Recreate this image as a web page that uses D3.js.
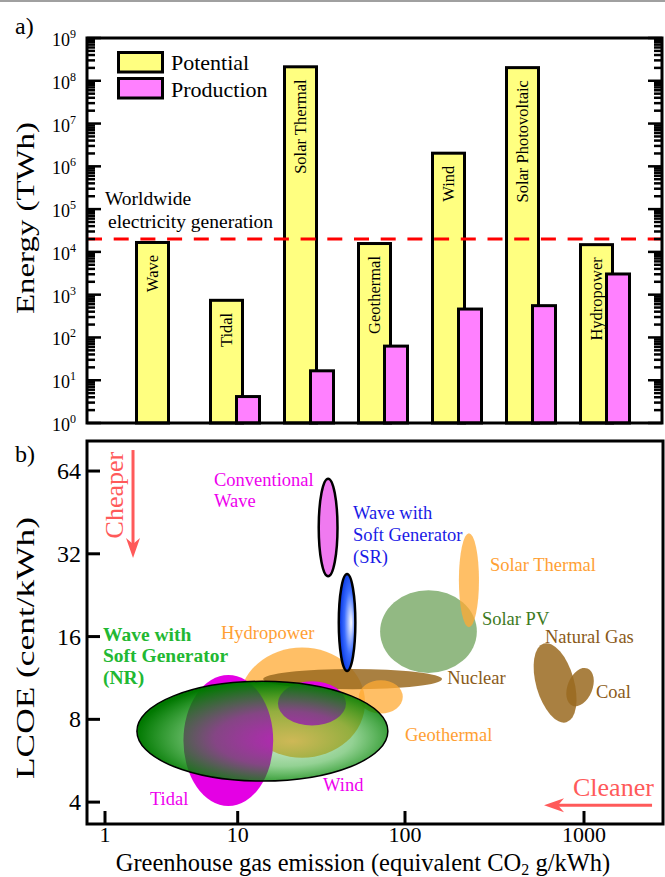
<!DOCTYPE html>
<html><head><meta charset="utf-8">
<script src="https://cdn.jsdelivr.net/npm/d3@7"></script>
<style>body{margin:0;background:#fff}svg{display:block}svg text{font-family:"Liberation Serif","DejaVu Serif",Tinos,serif}</style>
</head><body>
<svg id="chart" width="665" height="877"></svg>
<script>
// ---------- Panel a data ----------
const categories = ["Wave","Tidal","Solar Thermal","Geothermal","Wind","Solar Photovoltaic","Hydropower"];
const potential  = [1.8e4, 8e2, 2.3e8, 1.7e4, 2.2e6, 2.2e8, 1.6e4];
const production = [null, 4.5, 18, 68, 500, 600, 3300];
const worldwideGeneration = 2e4;
const energyExponents = [0,1,2,3,4,5,6,7,8,9];
const legendLabels = ["Potential","Production"];

// ---------- Panel b data ----------
const techNames    = ["Solar PV","Solar Thermal","Hydropower","Nuclear","Geothermal","Natural Gas","Coal","Tidal","Wind","Wave NR","Conventional Wave","Wave SR"];
const emissionMin  = [71, 200, 10.2, 14.2, 53, 540, 810, 3.9, 17.4, 1.74, 30.5, 40.2];
const emissionMax  = [252, 259, 57.7, 161, 97, 880, 1115, 16.3, 44.4, 79, 39.5, 50.5];
const lcoeMin      = [11.8, 17.3, 5.8, 10.3, 8.4, 7.7, 8.86, 3.87, 7.6, 4.77, 26.5, 12];
const lcoeMax      = [23.6, 38, 14.6, 12.2, 11.1, 15.3, 12.4, 11.6, 11.0, 11.0, 60, 27];
const tiltDeg      = [0, 0, 0, 0, 0, -16, 22, 0, 0, 0, 0, 0];
const lcoeTicks    = [4, 8, 16, 32, 64];
const emissionTicks = [1, 10, 100, 1000];

const labelLines    = [["Conventional","Wave"],["Wave with","Soft Generator","(SR)"],["Solar Thermal"],["Solar PV"],["Natural Gas"],["Nuclear"],["Coal"],["Geothermal"],["Wind"],["Tidal"],["Hydropower"],["Wave with","Soft Generator","(NR)"]];
const labelEmission = [6.63, 48.9, 298, 269, 605, 172, 1167, 100, 32.4, 2.18, 7.48, 0.966];
const labelLcoe     = [59.3, 45.0, 29.1, 18.5, 15.9, 11.3, 10.05, 7.01, 4.61, 4.1, 16.5, 16.4];

// ---------- styles ----------
const ORANGE = "#ffaa33", BROWN = "#9a6a20", MAG = "#e400e4";
const ellipseFill = ["#4a8a30", ORANGE, ORANGE, BROWN, ORANGE, BROWN, BROWN, MAG, MAG, "url(#gradNR)", "#f07af0", "url(#gradSR)"];
const ellipseOpacity = [0.6, 0.75, 0.75, 0.85, 0.75, 0.85, 0.85, 1, 1, 1, 1, 1];
const ellipseStroke = [null,null,null,null,null,null,null,null,null,1.5,2.5,2.5];
const labelColor = ["#ee00ee","#1a1ae6","#ffa033","#3d7a1e","#8a5a18","#8a5a18","#8a5a18","#ffa033","#ee00ee","#ee00ee","#ffa033","#22b832"];
const labelBold  = [false,false,false,false,false,false,false,false,false,false,false,true];
const labelSpacing = [21,22,0,0,0,0,0,0,0,0,0,21.5];

const svg = d3.select("#chart");
svg.append("rect").attr("x",0).attr("y",0).attr("width",665).attr("height",2).attr("fill","#a0a0a0");

const defs = svg.append("defs");
const gNR = defs.append("radialGradient").attr("id","gradNR").attr("cx",0.55).attr("cy",0.55).attr("r",0.55).attr("fx",0.62).attr("fy",0.6);
gNR.append("stop").attr("offset","0%").attr("stop-color","#20a020").attr("stop-opacity",0.22);
gNR.append("stop").attr("offset","50%").attr("stop-color","#109a10").attr("stop-opacity",0.45);
gNR.append("stop").attr("offset","100%").attr("stop-color","#007800").attr("stop-opacity",1);
const gSR = defs.append("radialGradient").attr("id","gradSR").attr("cx",0.6).attr("cy",0.5).attr("r",0.6).attr("fx",0.75).attr("fy",0.5);
gSR.append("stop").attr("offset","0%").attr("stop-color","#ffffff");
gSR.append("stop").attr("offset","55%").attr("stop-color","#3a6cff");
gSR.append("stop").attr("offset","100%").attr("stop-color","#0030e0");

// ================= Panel a =================
const A = {left:87, right:662, top:38, bottom:423};
const yA = d3.scaleLog().domain([1,1e9]).range([A.bottom, A.top]);
const xA = d3.scaleBand().domain(categories).range([123,641]);
const gA = svg.append("g");

gA.selectAll("rect.pot").data(categories).join("rect").attr("class","pot")
  .attr("x", d => xA(d) + 13.5).attr("width", 32)
  .attr("y", (d,i) => yA(potential[i]) + 1.5)
  .attr("height", (d,i) => yA(1) - yA(potential[i]) - 1.5)
  .attr("fill","#ffff80").attr("stroke","#000").attr("stroke-width",3);

const prodIdx = categories.map((c,i)=>i).filter(i => production[i] != null);
gA.selectAll("rect.prod").data(prodIdx).join("rect").attr("class","prod")
  .attr("x", i => xA(categories[i]) + 39.5).attr("width", 23)
  .attr("y", i => yA(production[i]) + 1.5)
  .attr("height", i => yA(1) - yA(production[i]) - 1.5)
  .attr("fill","#ff80ff").attr("stroke","#000").attr("stroke-width",3);

gA.selectAll("text.cat").data(categories).join("text").attr("class","cat")
  .attr("transform", (d,i) => `translate(${xA(d)+29.5},${yA(potential[i])+14}) rotate(-90)`)
  .attr("text-anchor","end").attr("dominant-baseline","central")
  .attr("font-size",16.5).text(d => d);

// dashed line
gA.append("line").attr("x1",A.left).attr("x2",A.right)
  .attr("y1",yA(worldwideGeneration)).attr("y2",yA(worldwideGeneration))
  .attr("stroke","#ff0000").attr("stroke-width",3).attr("stroke-dasharray","15,11.7");
gA.append("text").attr("x",105).attr("y",205).attr("font-size",19.5).text("Worldwide");
gA.append("text").attr("x",108).attr("y",228).attr("font-size",19.5).text("electricity generation");

// ticks
const majors = energyExponents.map(e => Math.pow(10,e));
const minors = [];
energyExponents.slice(0,-1).forEach(e => { for (let m=2;m<=9;m++) minors.push(m*Math.pow(10,e)); });
[[majors,14],[minors,8]].forEach(([vals,len]) => {
  gA.selectAll(null).data(vals).join("line")
    .attr("x1",A.left).attr("x2",A.left+len).attr("y1",d=>yA(d)).attr("y2",d=>yA(d))
    .attr("stroke","#000").attr("stroke-width",2.5);
  gA.selectAll(null).data(vals).join("line")
    .attr("x1",A.right).attr("x2",A.right-len).attr("y1",d=>yA(d)).attr("y2",d=>yA(d))
    .attr("stroke","#000").attr("stroke-width",2.5);
});
const tl = gA.selectAll("text.tick").data(energyExponents).join("text").attr("class","tick")
  .attr("x",52).attr("y",e => yA(Math.pow(10,e)) + 8)
  .attr("font-size",18);
tl.append("tspan").text("10");
tl.append("tspan").attr("dy",-8).attr("font-size",12).text(e => e);

gA.append("rect").attr("x",A.left).attr("y",A.top).attr("width",A.right-A.left).attr("height",A.bottom-A.top)
  .attr("fill","none").attr("stroke","#000").attr("stroke-width",3);

// legend
const legFill = ["#ffff80","#ff80ff"];
legendLabels.forEach((lab,i) => {
  gA.append("rect").attr("x",118.5).attr("y",52.5+i*26).attr("width",44).attr("height",19.5)
    .attr("fill",legFill[i]).attr("stroke","#000").attr("stroke-width",3);
  gA.append("text").attr("x",171).attr("y",70+i*26.5).attr("font-size",22).text(lab);
});

gA.append("text").attr("transform","translate(34,218) rotate(-90)").attr("text-anchor","middle")
  .attr("font-size",25).attr("textLength",192).attr("lengthAdjust","spacingAndGlyphs")
  .text("Energy (TWh)");
svg.append("text").attr("x",15).attr("y",34).attr("font-size",24).text("a)");

// ================= Panel b =================
const B = {left:87, right:663, top:441, bottom:824};
const xB = d3.scaleLog().domain([0.732,1,10,100,1000,2762]).range([87,105,237.7,405,584,663]);
const yB = d3.scaleLog().base(2).domain([3.33,82.3]).range([B.bottom,B.top]);
const gB = svg.append("g");
const clip = defs.append("clipPath").attr("id","clipB");
clip.append("rect").attr("x",B.left).attr("y",B.top).attr("width",B.right-B.left).attr("height",B.bottom-B.top);
const gE = gB.append("g").attr("clip-path","url(#clipB)");

gE.selectAll("ellipse").data(techNames).join("ellipse")
  .each(function(d,i){
    const x0 = xB(emissionMin[i]), x1 = xB(emissionMax[i]);
    const y0 = yB(lcoeMax[i]), y1 = yB(lcoeMin[i]);
    const cx = (x0+x1)/2, cy = (y0+y1)/2;
    const el = d3.select(this).attr("cx",cx).attr("cy",cy).attr("rx",(x1-x0)/2).attr("ry",(y1-y0)/2)
      .attr("fill",ellipseFill[i]).attr("fill-opacity",ellipseOpacity[i]);
    if (tiltDeg[i]) el.attr("transform",`rotate(${tiltDeg[i]},${cx},${cy})`);
    if (ellipseStroke[i]) el.attr("stroke","#000").attr("stroke-width",ellipseStroke[i]);
  });

// labels
labelLines.forEach((lines,i) => {
  const t = gB.append("text").attr("x",xB(labelEmission[i])).attr("y",yB(labelLcoe[i]))
    .attr("dominant-baseline","central")
    .attr("font-size", labelBold[i] ? 19.5 : 18.5).attr("font-weight", labelBold[i] ? "bold" : "normal")
    .attr("fill",labelColor[i]);
  lines.forEach((ln,k) => t.append("tspan").attr("x",xB(labelEmission[i])).attr("dy",k===0?0:labelSpacing[i]).text(ln));
});

// Cheaper / Cleaner annotations
const RED = "#ff5a5a";
function arrow(x1,y1,x2,y2){
  const ang = Math.atan2(y2-y1,x2-x1), L=20, W=7, N=14;
  const ux=Math.cos(ang), uy=Math.sin(ang), px=-uy, py=ux;
  gB.append("line").attr("x1",x1).attr("y1",y1).attr("x2",x2-ux*N).attr("y2",y2-uy*N)
    .attr("stroke",RED).attr("stroke-width",3);
  gB.append("path").attr("d",`M${x2},${y2} L${x2-ux*L+px*W},${y2-uy*L+py*W} L${x2-ux*N},${y2-uy*N} L${x2-ux*L-px*W},${y2-uy*L-py*W} Z`)
    .attr("fill",RED);
}
arrow(xB(1.626), yB(76.3), xB(1.626), yB(30.9));
arrow(xB(2399), yB(3.90), xB(598), yB(3.90));
gB.append("text").attr("transform",`translate(${xB(1.17)},${yB(52.3)}) rotate(-90)`)
  .attr("text-anchor","middle").attr("dominant-baseline","central")
  .attr("font-size",26).attr("fill",RED).text("Cheaper");
gB.append("text").attr("x",xB(868)).attr("y",yB(4.53)).attr("dominant-baseline","central")
  .attr("font-size",26).attr("fill",RED).text("Cleaner");

// axes
gB.selectAll(null).data(lcoeTicks).join("line")
  .attr("x1",B.left).attr("x2",B.left+13).attr("y1",d=>yB(d)).attr("y2",d=>yB(d))
  .attr("stroke","#000").attr("stroke-width",3);
gB.selectAll(null).data(lcoeTicks).join("text")
  .attr("x",81).attr("y",d=>yB(d)+8).attr("text-anchor","end")
  .attr("font-size",24).text(d=>d);
gB.selectAll(null).data(emissionTicks).join("line")
  .attr("x1",d=>xB(d)).attr("x2",d=>xB(d)).attr("y1",B.bottom).attr("y2",B.bottom-13)
  .attr("stroke","#000").attr("stroke-width",3);
gB.selectAll(null).data(emissionTicks).join("text")
  .attr("x",d=>xB(d)).attr("y",842).attr("text-anchor","middle")
  .attr("font-size",22).text(d=>d);

gB.append("rect").attr("x",B.left).attr("y",B.top).attr("width",B.right-B.left).attr("height",B.bottom-B.top)
  .attr("fill","none").attr("stroke","#000").attr("stroke-width",3);

const xl = gB.append("text").attr("x",363).attr("y",871).attr("text-anchor","middle")
  .attr("font-size",24.5);
xl.append("tspan").text("Greenhouse gas emission (equivalent CO");
xl.append("tspan").attr("font-size",16).attr("dy",4).text("2");
xl.append("tspan").attr("dy",-4).text(" g/kWh)");

gB.append("text").attr("transform","translate(34,648) rotate(-90)").attr("text-anchor","middle")
  .attr("font-size",25).attr("textLength",262).attr("lengthAdjust","spacingAndGlyphs")
  .text("LCOE (cent/kWh)");
svg.append("text").attr("x",15).attr("y",462).attr("font-size",24).text("b)");
</script>
</body></html>
